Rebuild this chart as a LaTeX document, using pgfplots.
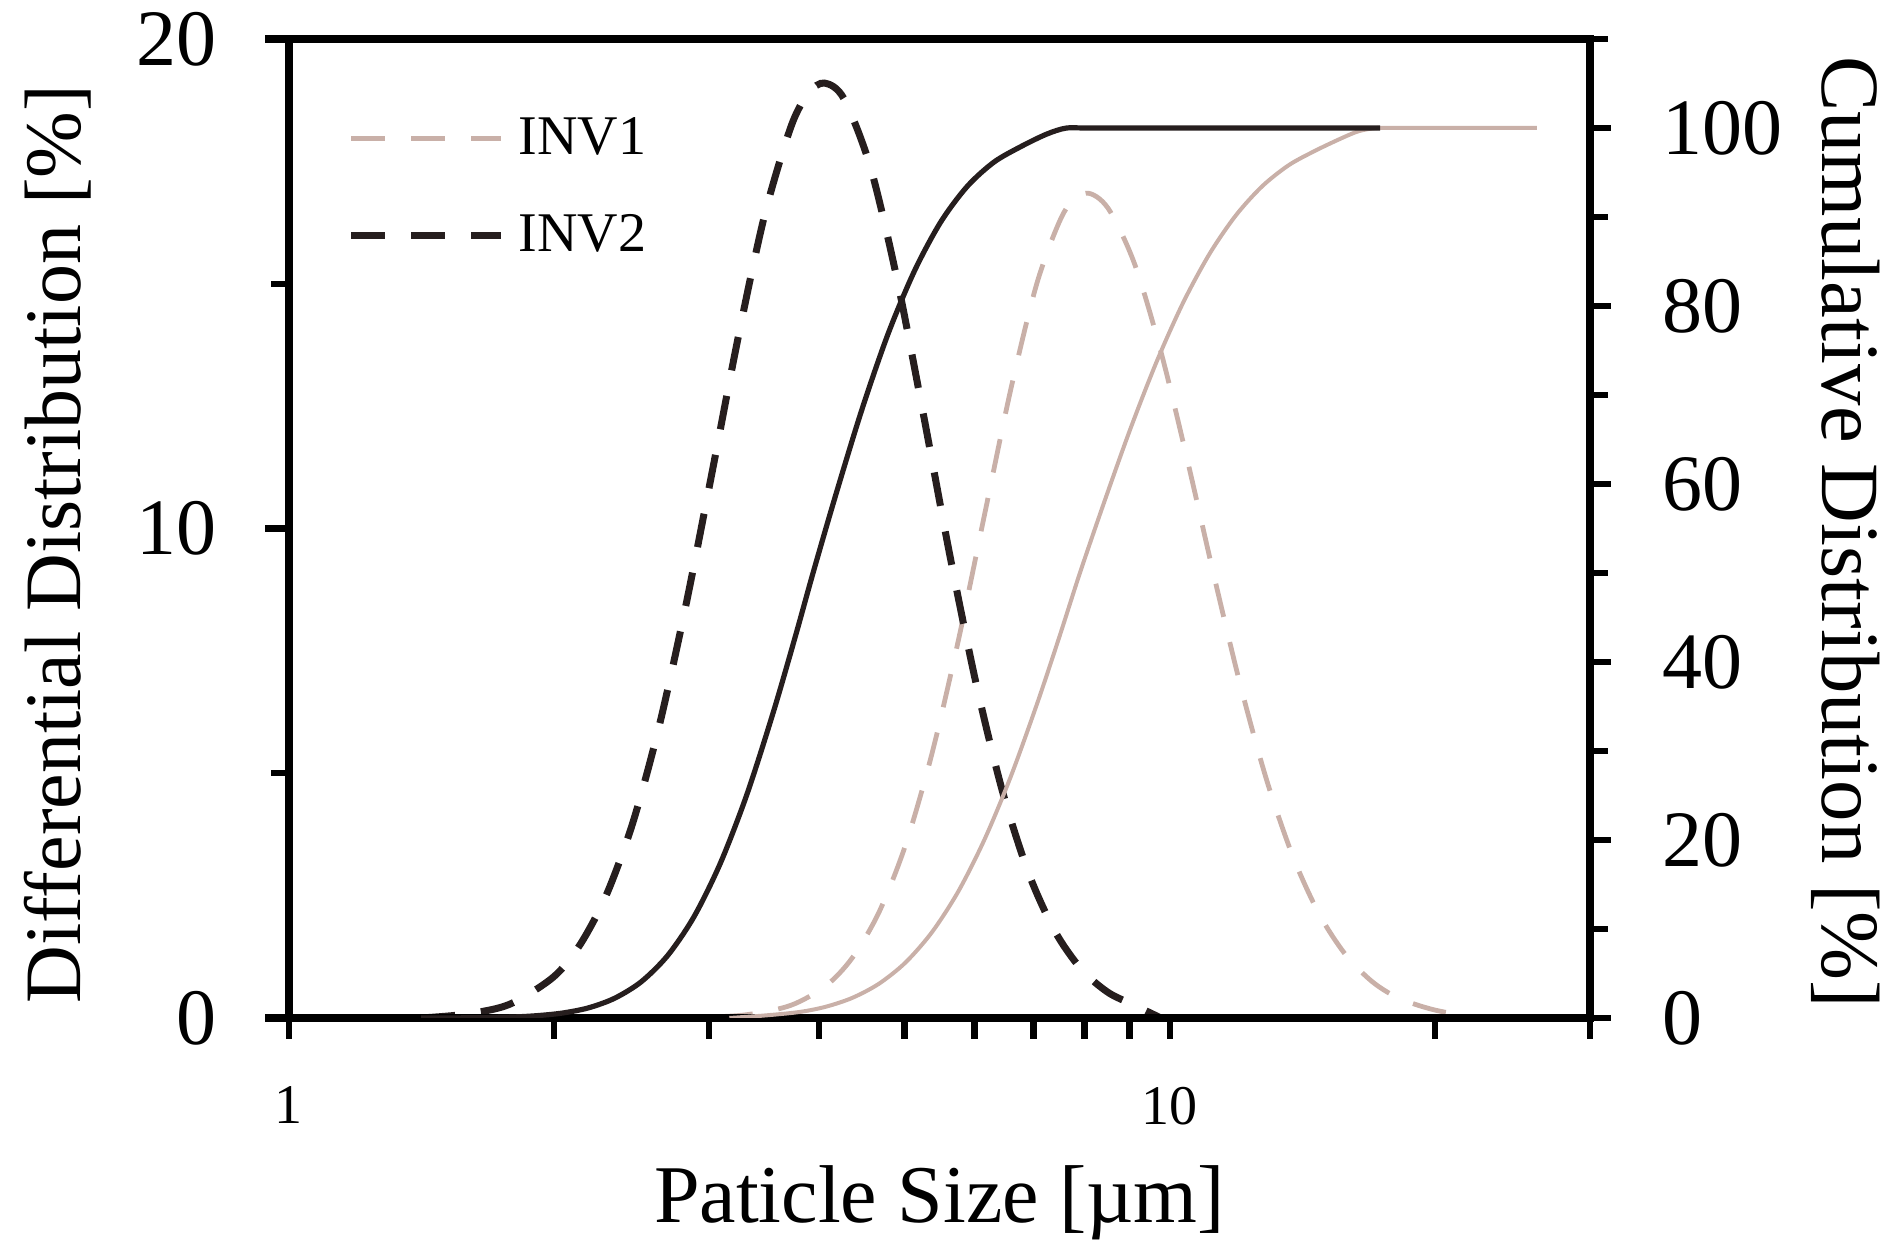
\documentclass[border=0pt]{standalone}
\usepackage{pgfplots}
\pgfplotsset{compat=1.18}
\usepackage{fontspec}
\setmainfont{Liberation Serif}

\definecolor{invdark}{RGB}{38,30,30}
\definecolor{invlight}{RGB}{201,176,168}

\begin{document}
\begin{tikzpicture}
\useasboundingbox (-72.25pt,-58pt) rectangle (400.5pt,254.5pt);

% differential distributions (left axis)
\begin{axis}[
  scale only axis, width=325.25pt, height=244.75pt,
  xmode=log, xmin=1, xmax=30,
  tick align=outside,
  major tick length=6pt, minor tick length=4.5pt,
  axis line style={line width=2pt, line cap=rect},
  major tick style={black, line width=1.8pt},
  minor tick style={black, line width=1.5pt},
  /pgf/number format/assume math mode=true,
  ymin=0, ymax=20,
  ytick={0,10,20}, minor ytick={5,15}, ytick pos=left,
  xtick={1,10}, xticklabels={1,10}, xtick pos=bottom,
  xtick style={draw=none},
  yticklabel style={font=\fontsize{20}{24}\selectfont, anchor=east, inner sep=0pt, xshift=-12pt},
  xticklabel style={font=\fontsize{14}{16}\selectfont, anchor=north, inner sep=0pt, yshift=-11pt},
  every axis y label/.style={at={(axis description cs:-0.1606,0.484)}, rotate=90, anchor=base,
    font=\fontsize{20}{24}\selectfont},
  every axis x label/.style={at={(axis description cs:0.5,-0.2084)}, anchor=base,
    font=\fontsize{20.5}{24}\selectfont},
  ylabel={Differential Distribution [\%]},
  xlabel={Paticle Size [µm]},
  legend style={draw=none, fill=none, at={(axis description cs:0.0446,0.921)},
    anchor=north west, inner sep=0pt, font=\fontsize{14}{16}\selectfont,
    row sep=13.5pt, column sep=3.5pt, nodes={inner sep=0pt}},
  legend cell align=left,
  legend image code/.code={\draw[#1] (0pt,0pt) -- (37.5pt,0pt);},
]
\addplot[invlight, line width=1.2pt, dash pattern=on 8.5pt off 6.5pt, smooth] coordinates {
  (2.630,0) (2.951,0.015) (3.311,0.068) (3.715,0.26) (4.074,0.664) (4.365,1.24)
  (4.677,2.165) (5.012,3.535) (5.370,5.40) (5.754,7.714) (6.166,10.308) (6.607,12.883)
  (7.079,15.059) (7.586,16.463) (8.035,16.85) (8.511,16.541) (9.120,15.407)
  (9.772,13.607) (10.471,11.394) (11.220,9.046) (12.023,6.809) (12.882,4.86)
  (13.804,3.289) (14.791,2.11) (15.849,1.283) (16.982,0.74) (18.197,0.405)
  (19.953,0.167) (22.4,0)
};
\addlegendentry{INV1}
\addplot[invdark, line width=1.75pt, dash pattern=on 8.5pt off 6.5pt, smooth] coordinates {
  (1.413,0) (1.585,0.078) (1.778,0.276) (1.995,0.831) (2.138,1.485) (2.291,2.501)
  (2.455,3.971) (2.630,5.939) (2.818,8.37) (3.020,11.114) (3.236,13.906)
  (3.467,16.394) (3.715,18.21) (3.890,18.897) (4.055,19.1) (4.266,18.782)
  (4.571,17.388) (4.898,15.123) (5.248,12.356) (5.623,9.484) (6.026,6.837)
  (6.457,4.632) (6.918,2.947) (7.413,1.761) (7.943,0.989) (8.511,0.522)
  (9.120,0.259) (9.772,0)
};
\addlegendentry{INV2}
\end{axis}

% cumulative distributions (right axis), also carries the x ticks
\begin{axis}[
  scale only axis, width=325.25pt, height=244.75pt,
  xmode=log, xmin=1, xmax=30,
  tick align=outside,
  major tick length=5.25pt, minor tick length=4.5pt,
  axis line style={line width=2pt, line cap=rect},
  major tick style={black, line width=1.6pt},
  minor tick style={black, line width=1.5pt},
  /pgf/number format/assume math mode=true,
  ymin=0, ymax=110,
  axis x line*=bottom, axis y line*=right,
  xtick={1,2,3,4,5,6,7,8,9,10,20,30}, xticklabels={},
  ytick={0,20,...,100}, minor ytick={10,30,...,110},
  yticklabel style={font=\fontsize{20}{24}\selectfont, anchor=west, inner sep=0pt, xshift=12.75pt},
  every axis y label/.style={at={(axis description cs:1.179,0.496)}, rotate=-90, anchor=base,
    font=\fontsize{20.7}{24}\selectfont},
  ylabel={Cumulative Distribution [\%]},
]
\addplot[invlight, line width=1pt, smooth] coordinates {
  (3.162,0) (3.467,0.28) (3.802,0.68) (4.074,1.28) (4.365,2.28) (4.677,3.86)
  (5.012,6.24) (5.370,9.64) (5.754,14.23) (6.166,20.13) (6.607,27.26) (7.079,35.49)
  (7.499,42.93) (7.907,50) (8.414,57.81) (9.016,66.13) (9.661,73.73) (10.351,80.34)
  (11.092,85.84) (11.885,90.18) (12.735,93.46) (13.646,95.82) (14.622,97.44)
  (15.668,98.85) (16.4,99.65) (17.2,100) (18.6,100) (22,100) (26.1,100)
};
\addplot[invdark, line width=1.3pt, smooth] coordinates {
  (1.413,0) (1.585,0.02) (1.778,0.1) (1.905,0.25) (2.042,0.55) (2.188,1.14)
  (2.344,2.23) (2.512,4.08) (2.692,7.04) (2.884,11.41) (3.090,17.43) (3.311,25.14)
  (3.548,34.39) (3.758,42.9) (3.936,50) (4.169,58.53) (4.467,68.23) (4.786,76.82)
  (5.129,83.92) (5.495,89.44) (5.888,93.43) (6.310,96.14) (6.761,97.86)
  (7.244,99.3) (7.638,100) (8.128,100) (12,100) (17.33,100)
};
\end{axis}
\end{tikzpicture}
\end{document}
